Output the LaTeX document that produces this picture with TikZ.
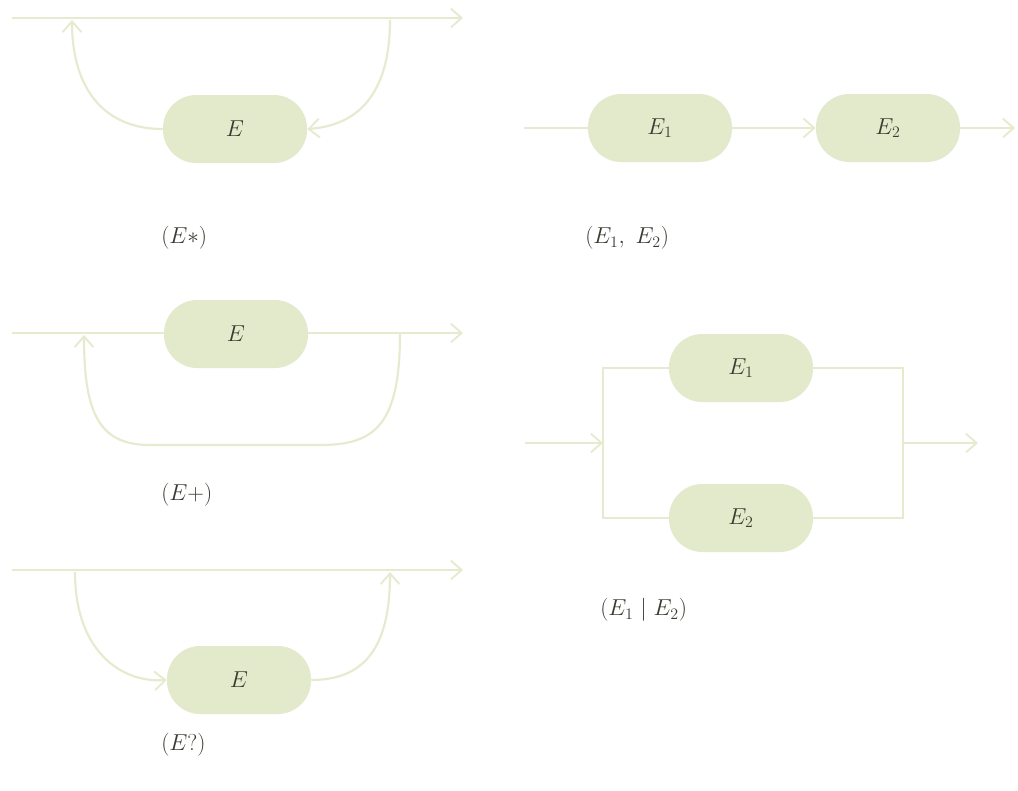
\documentclass[tikz,border=0pt]{standalone}
\usetikzlibrary{arrows.meta}
\definecolor{linec}{HTML}{E6EBCF}
\definecolor{boxc}{HTML}{E2EACB}
\definecolor{txtc}{HTML}{3A3A30}
\begin{document}
\begin{tikzpicture}[x=0.75pt,y=-0.75pt,
  conn/.style={draw=linec,line width=1.6pt},
  arr/.style={conn,-{Straight Barb[length=8pt,width=14pt,line width=1.4pt]}},
  ebox/.style={fill=boxc,draw=none,minimum width=108pt,minimum height=51pt,rounded corners=25pt,
    text=txtc,font=\fontsize{18}{20}\selectfont,inner sep=0pt},
  lbl/.style={text=txtc,font=\fontsize{17}{19}\selectfont,anchor=west,inner sep=0pt}]
\useasboundingbox[fill=white] (0,0) rectangle (1018,790);

% ---------- (E*) ----------
\coordinate (s1) at (12,18);
\coordinate (t1) at (463,18);
\coordinate (a1) at (72,20);
\coordinate (b1) at (390,20);
\node[ebox] (e1) at (235,129) {$E$};
\draw[arr] (s1) -- (t1);
\draw[arr] (e1.west) .. controls (105,129) and (72,90) .. (a1);
\draw[arr] (b1) .. controls (390,85) and (365,125) .. (e1.east);
\node[lbl] (l1) at (161,238) {$(E{\ast})$};

% ---------- (E1, E2) ----------
\coordinate (s2) at (524,128);
\coordinate (t2) at (1015,128);
\node[ebox] (e21) at (660,128) {$E_1$};
\node[ebox] (e22) at (888,128) {$E_2$};
\draw[conn] (s2) -- (e21.west);
\draw[arr] (e21.east) -- (e22.west);
\draw[arr] (e22.east) -- (t2);
\node[lbl] (l2) at (585,238) {$(E_1,\ E_2)$};

% ---------- (E+) ----------
\coordinate (s3) at (12,333);
\coordinate (t3) at (463,333);
\coordinate (a3) at (84,335);
\coordinate (b3) at (400,333);
\draw[arr] (s3) -- (t3);
\node[ebox] (e3) at (236,334) {$E$};
\draw[arr] (b3) .. controls (400,425) and (375,445) .. (320,445) -- (150,445)
   .. controls (100,445) and (84,415) .. (a3);
\node[lbl] (l3) at (161,495) {$(E{+})$};

% ---------- (E1 | E2) ----------
\coordinate (s4) at (525,443);
\coordinate (j4) at (603,443);
\coordinate (k4) at (903,443);
\coordinate (t4) at (978,443);
\node[ebox] (e41) at (741,368) {$E_1$};
\node[ebox] (e42) at (741,518) {$E_2$};
\draw[arr] (s4) -- (j4);
\draw[conn] (e41.west) -| (j4) |- (e42.west);
\draw[conn] (e41.east) -| (k4) |- (e42.east);
\draw[arr] (k4) -- (t4);
\node[lbl] (l4) at (600,610) {$(E_1\ |\ E_2)$};

% ---------- (E?) ----------
\coordinate (s5) at (12,570);
\coordinate (t5) at (463,570);
\coordinate (a5) at (75,572);
\coordinate (b5) at (390,572);
\draw[arr] (s5) -- (t5);
\node[ebox] (e5) at (239,680) {$E$};
\draw[arr] (a5) .. controls (75,650) and (120,683) .. (e5.west);
\draw[arr] (e5.east) .. controls (370,680) and (390,640) .. (b5);
\node[lbl] (l5) at (161,745) {$(E?)$};
\end{tikzpicture}
\end{document}
